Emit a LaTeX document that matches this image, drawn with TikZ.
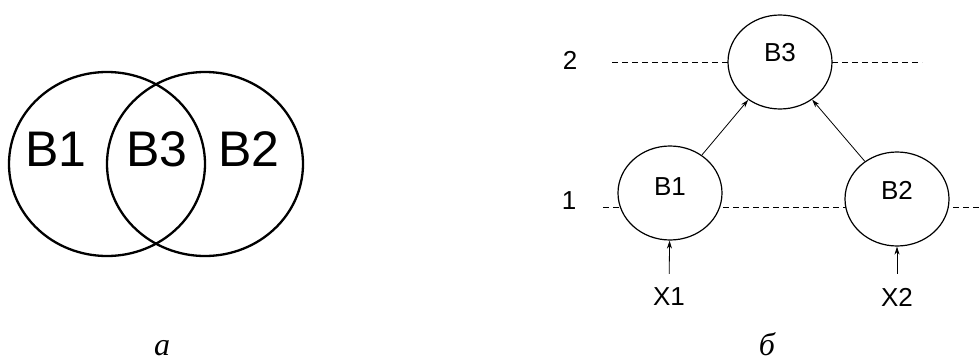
\documentclass[tikz,border=0pt]{standalone}
\usepackage{fontspec}
\setmainfont{Liberation Sans}
\newfontfamily\rotulofont{Liberation Serif}
\usepackage{tikz}
\usetikzlibrary{arrows.meta,positioning,shapes.geometric}
\tikzset{
    conjunto/.style={
        ellipse,
        draw,
        line width=2.3pt,
        minimum width=196pt,
        minimum height=184pt,
        inner sep=0pt
    },
    rotuloGrande/.style={font=\fontsize{50}{50}\selectfont, inner sep=0pt},
    estado/.style={
        ellipse,
        draw,
        fill=white,
        line width=1.2pt,
        minimum width=104pt,
        minimum height=94pt,
        inner sep=0pt
    },
    texto/.style={font=\fontsize{26}{26}\selectfont, inner sep=0pt},
    nivel/.style={line width=0.8pt, dash pattern=on 6pt off 4pt},
    fluxo/.style={-{Stealth[length=8pt,width=5pt]}, line width=0.8pt},
    legenda/.style={font=\rotulofont\itshape\fontsize{32}{32}\selectfont,
        inner sep=0pt, text depth=0pt, anchor=base}
}

\begin{document}
\begin{tikzpicture}[x=1pt, y=-1pt]
        \useasboundingbox (0,0) rectangle (980,361);
        % a
        \node[conjunto] (c1) at (107,164) {};
        \node[conjunto] (c2) at (205,164) {};
        \node[rotuloGrande] (t1) at (56,149) {B1};
        \node[rotuloGrande] (t3) at (157,149) {B3};
        \node[rotuloGrande] (t2) at (249,149) {B2};
        \node[legenda] (la) at (162,355) {a};
        % b
        \coordinate (n2w) at (612,62);
        \coordinate (n2e) at (922,62);
        \coordinate (n1w) at (603,207);
        \coordinate (n1e) at (980,207);
        \draw[nivel] (n2w) -- (n2e);
        \draw[nivel] (n1w) -- (n1e);
        \node[texto] (lv2) at (570,60) {2};
        \node[texto] (lv1) at (569,201) {1};
        \node[estado, label={[texto, yshift=9pt]center:B3}] (b3) at (780,62) {};
        \node[estado, label={[texto, yshift=6pt]center:B1}] (b1) at (670,193) {};
        \node[estado, label={[texto, yshift=9pt]center:B2}] (b2) at (897,199) {};
        \node[texto] (x1) at (669,297) {X1};
        \node[texto] (x2) at (897,297) {X2};
        \draw[fluxo] (b1) -- (b3);
        \draw[fluxo] (b2) -- (b3);
        \draw[fluxo, shorten <=14pt] (x1) -- (b1);
        \draw[fluxo, shorten <=14pt] (x2) -- (b2);
        \node[legenda] (lb) at (767,355) {б};
    \end{tikzpicture}
\end{document}
